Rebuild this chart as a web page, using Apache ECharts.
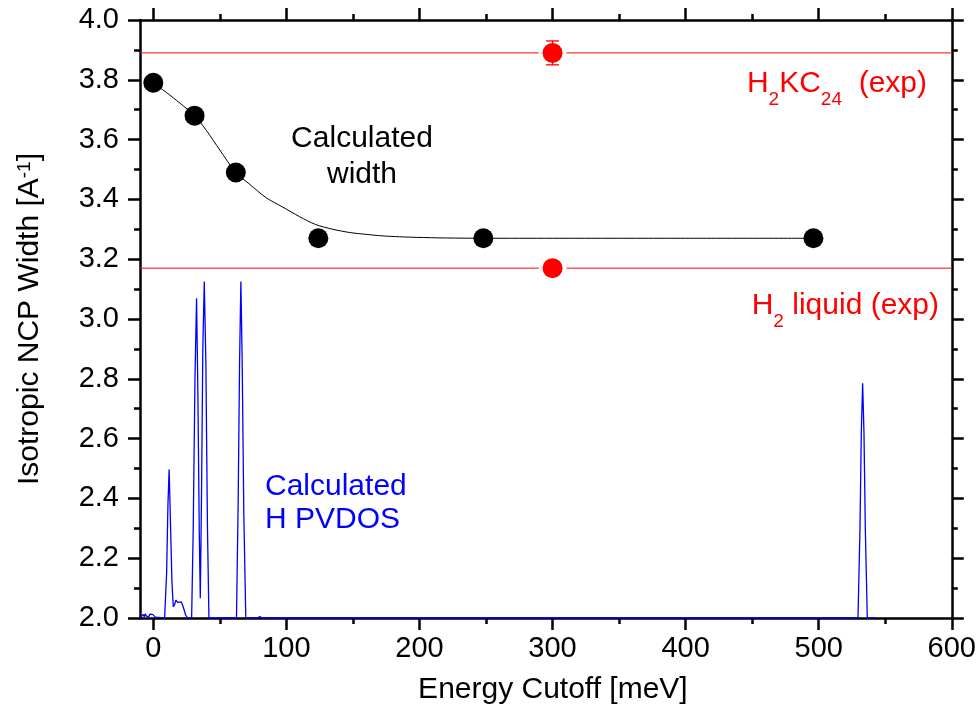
<!DOCTYPE html>
<html>
<head>
<meta charset="UTF-8">
<title>NCP width</title>
<script src="https://cdn.jsdelivr.net/npm/echarts@6/dist/echarts.min.js"></script>
<style>
  * { margin: 0; padding: 0; }
  #main { width: 979px; height: 719px; background: #fff; }
</style>
</head>
<body>
<div id="main"></div>
<script>
// calculated NCP widths (black dots)
var calcX = [0, 31, 62, 124, 248, 496];
var calcY = [3.79, 3.68, 3.49, 3.27, 3.27, 3.27];
// fitted curve through them
var fitX = [0, 10, 20, 31, 40, 50, 62, 72, 85, 97, 110, 122, 135, 148, 160, 172, 185, 198, 220, 250, 300, 400, 496];
var fitY = [3.79, 3.757, 3.722, 3.68, 3.63, 3.565, 3.49, 3.452, 3.405, 3.375, 3.342, 3.316, 3.300, 3.289, 3.283, 3.278, 3.275, 3.273, 3.271, 3.27, 3.27, 3.27, 3.27];
// experiments (red)
var expX = [300, 300];
var expY = [3.89, 3.17];
var expErr = [0.04, 0];
// H PVDOS, shifted onto the 2.0 baseline (blue)
var dosX = [-10, -8.5, -7.5, -6.8, -6, -5.2, -4.5, -3.5, -2.5, -1.5, -0.5, 0.5, 1.5, 3,
  8.5, 10, 11, 11.9, 13, 14, 15, 16, 17, 18.3, 19.6, 21.1, 22.6, 24.3, 25.8,
  28.8, 30, 31.3, 32.5, 33.5, 34.5, 35.3, 36.2, 37.2, 38.3, 39.5, 40.7, 41.8,
  62.5, 63.8, 64.8, 65.8, 66.8, 68, 69.5, 78, 80, 82,
  529.5, 531, 532, 533, 534, 535, 536.5, 543];
var dosY = [2.0, 2.0, 2.012, 2.004, 2.014, 2.006, 2.01, 2.004, 2.013, 2.008, 2.012, 2.008, 2.003, 2.0,
  2.0, 2.15, 2.38, 2.497, 2.3, 2.12, 2.038, 2.045, 2.06, 2.052, 2.058, 2.054, 2.035, 2.01, 2.0,
  2.0, 2.3, 2.8, 3.069, 2.75, 2.3, 2.066, 2.4, 2.9, 3.125, 2.85, 2.3, 2.0,
  2.0, 2.4, 2.85, 3.125, 2.85, 2.35, 2.0, 2.0, 2.005, 2.0,
  2.0, 2.3, 2.62, 2.785, 2.62, 2.3, 2.0, 2.0];
var xMajor = [0, 100, 200, 300, 400, 500, 600];
var xMinor = [50, 150, 250, 350, 450, 550];

function zip(a, b) { return a.map(function (v, i) { return [v, b[i]]; }); }

var FONT = "'Liberation Sans', Arial, sans-serif";
var FS = 30;
var TFS = 29;
var axisLine = { onZero: false, lineStyle: { color: '#000', width: 2.5 } };

function xAx(pos, vals, len, labels, line) {
  return {
    type: 'value', position: pos, min: -10, max: 600,
    axisLine: { show: line, onZero: false, lineStyle: { color: '#000', width: 2.5 } },
    axisTick: { show: true, customValues: vals, length: len, lineStyle: { color: '#000', width: 2.5 } },
    axisLabel: { show: labels, customValues: vals, fontSize: TFS, fontFamily: FONT, color: '#000', margin: 16 },
    splitLine: { show: false }
  };
}

var sub = {
  n: { fontSize: FS, fontFamily: FONT, fill: '#ff0000', lineHeight: 30, verticalAlign: 'top' },
  s: { fontSize: 19, fontFamily: FONT, fill: '#ff0000', lineHeight: 40, verticalAlign: 'bottom' }
};

var myChart = echarts.init(document.getElementById('main'));
var option = {
  animation: false,
  grid: { left: 140, right: 26, top: 20, bottom: 101 },
  xAxis: [
    Object.assign(xAx('bottom', xMajor, 12, true, true), {
      name: 'Energy Cutoff [meV]', nameLocation: 'middle', nameGap: 57,
      nameTextStyle: { fontSize: FS, fontFamily: FONT, color: '#000', padding: [0, 0, 0, 14] }
    }),
    xAx('bottom', xMinor, 6, false, false),
    xAx('top', xMajor, 12, false, true),
    xAx('top', xMinor, 6, false, false)
  ],
  yAxis: [
    {
      type: 'value', position: 'left', min: 2, max: 4, interval: 0.2,
      name: 'Isotropic NCP Width [A{sup|-1}]', nameLocation: 'middle', nameGap: 95,
      nameTextStyle: {
        fontSize: FS, fontFamily: FONT, color: '#000', lineHeight: 30, verticalAlign: 'bottom',
        rich: { sup: { fontSize: 19, fontFamily: FONT, color: '#000', lineHeight: 6, verticalAlign: 'top' } }
      },
      axisLine: axisLine,
      axisTick: { length: 12, lineStyle: { color: '#000', width: 2.5 } },
      minorTick: { show: true, splitNumber: 2, length: 6, lineStyle: { color: '#000', width: 2.5 } },
      axisLabel: { fontSize: TFS, fontFamily: FONT, color: '#000', margin: 21,
        formatter: function (v) { return v.toFixed(1); } },
      splitLine: { show: false }
    },
    {
      type: 'value', position: 'right', min: 2, max: 4, interval: 0.2,
      axisLine: axisLine,
      axisTick: { length: 12, lineStyle: { color: '#000', width: 2.5 } },
      minorTick: { show: true, splitNumber: 2, length: 6, lineStyle: { color: '#000', width: 2.5 } },
      axisLabel: { show: false },
      splitLine: { show: false }
    }
  ],
  series: [
    {
      type: 'line', data: zip(dosX, dosY), showSymbol: false, symbol: 'none',
      lineStyle: { color: '#0000ff', width: 1.3 }, z: 3
    },
    {
      type: 'line', data: [[-10, expY[0]], [600, expY[0]]], symbol: 'none',
      lineStyle: { color: '#ff0000', width: 1 }, z: 2
    },
    {
      type: 'line', data: [[-10, expY[1]], [600, expY[1]]], symbol: 'none',
      lineStyle: { color: '#ff0000', width: 1 }, z: 2
    },
    {
      type: 'line', data: zip(fitX, fitY), symbol: 'none', smooth: 0.3,
      lineStyle: { color: '#000', width: 1 }, z: 4
    },
    {
      type: 'scatter', data: zip(calcX, calcY), symbol: 'circle', symbolSize: 20,
      itemStyle: { color: '#000', opacity: 1 }, z: 5
    },
    {
      type: 'scatter', data: zip(expX, expY), symbol: 'circle', symbolSize: 24,
      itemStyle: { color: '#ff0000', borderColor: '#fff', borderWidth: 4, opacity: 1 }, z: 5
    },
    {
      type: 'custom', z: 6,
      data: expX.map(function (x, i) { return [x, expY[i], expErr[i]]; }),
      renderItem: function (params, api) {
        var x = api.value(0), y = api.value(1), e = api.value(2);
        if (!e) return;
        var top = api.coord([x, y + e]);
        var bot = api.coord([x, y - e]);
        var st = { stroke: '#ff0000', lineWidth: 1.3 };
        return {
          type: 'group',
          children: [
            { type: 'line', shape: { x1: top[0], y1: top[1], x2: bot[0], y2: bot[1] }, style: st },
            { type: 'line', shape: { x1: top[0] - 6.5, y1: top[1], x2: top[0] + 6.5, y2: top[1] }, style: st },
            { type: 'line', shape: { x1: bot[0] - 6.5, y1: bot[1], x2: bot[0] + 6.5, y2: bot[1] }, style: st }
          ]
        };
      }
    }
  ],
  graphic: [
    {
      type: 'text', x: 362, y: 157,
      style: { text: 'Calculated\nwidth', fill: '#000', font: FS + 'px ' + FONT,
        align: 'center', verticalAlign: 'middle', lineHeight: 36 }
    },
    {
      type: 'text', x: 265, y: 503,
      style: { text: 'Calculated\nH PVDOS', fill: '#0000ff', font: FS + 'px ' + FONT,
        align: 'left', verticalAlign: 'middle', lineHeight: 33 }
    },
    {
      type: 'text', x: 927, y: 69,
      style: { text: '{n|H}{s|2}{n|KC}{s|24}{n|  (exp)}', fill: '#ff0000', align: 'right', verticalAlign: 'top', rich: sub }
    },
    {
      type: 'text', x: 939, y: 291,
      style: { text: '{n|H}{s|2}{n| liquid (exp)}', fill: '#ff0000', align: 'right', verticalAlign: 'top', rich: sub }
    }
  ]
};
myChart.setOption(option);
</script>
</body>
</html>
